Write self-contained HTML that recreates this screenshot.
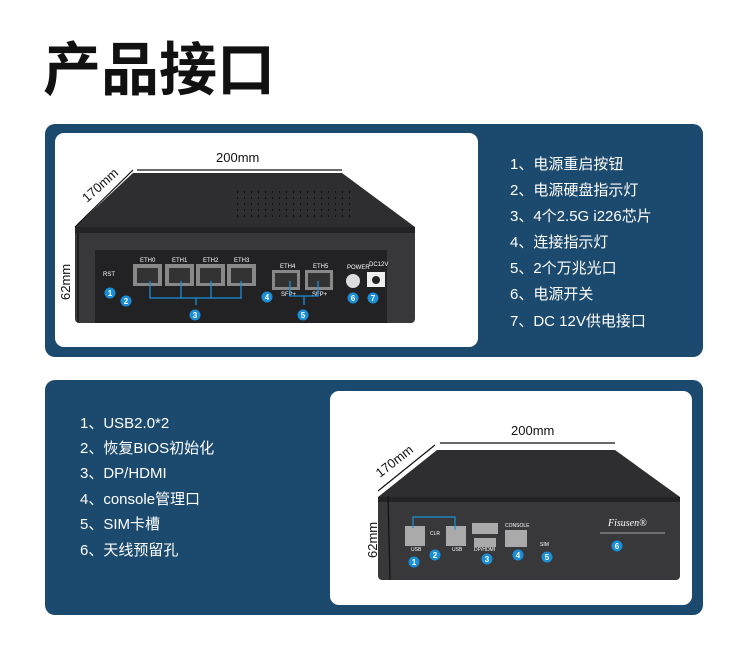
<!DOCTYPE html>
<html><head><meta charset="utf-8"><style>
body{margin:0;background:#fff;}
svg text{font-family:"Liberation Sans","Noto Sans CJK SC",sans-serif;}
</style></head><body>
<svg width="750" height="657" viewBox="0 0 750 657" xmlns="http://www.w3.org/2000/svg">
<text x="43" y="90" font-size="58" font-weight="bold" fill="#111" style="font-family:'Noto Sans CJK SC',sans-serif">产品接口</text>

<rect x="45" y="124" width="658" height="233" rx="10" fill="#1c4a6e"/>
<rect x="55" y="133" width="423" height="214" rx="9" fill="#fff"/>
<g font-size="15" fill="#fff">
<text x="510" y="169">1、电源重启按钮</text>
<text x="510" y="195">2、电源硬盘指示灯</text>
<text x="510" y="221">3、4个2.5G i226芯片</text>
<text x="510" y="247">4、连接指示灯</text>
<text x="510" y="273">5、2个万兆光口</text>
<text x="510" y="299">6、电源开关</text>
<text x="510" y="326">7、DC 12V供电接口</text>
</g>
<!-- device 1 -->
<polygon points="133,173 342,173 415,227 75,227" fill="#2e2e30"/>
<rect x="75" y="227" width="340" height="96" rx="4" fill="#38383a"/>
<rect x="75" y="227" width="340" height="6" fill="#232325"/>
<rect x="95" y="250" width="292" height="73" fill="#222224"/>
<g stroke="#111" stroke-width="2" stroke-dasharray="1 6"><line x1="237" y1="192" x2="355" y2="192"/><line x1="237" y1="198" x2="355" y2="198"/><line x1="237" y1="204" x2="355" y2="204"/><line x1="237" y1="210" x2="355" y2="210"/><line x1="237" y1="216" x2="355" y2="216"/></g>
<g stroke="#111" fill="none" stroke-width="1.2">
<line x1="137" y1="170" x2="342" y2="170"/><line x1="75" y1="227" x2="133" y2="170"/><line x1="78" y1="233" x2="78" y2="322"/></g>
<text x="216" y="162" font-size="13" fill="#111">200mm</text>
<text x="0" y="0" font-size="13" fill="#111" transform="translate(87,203) rotate(-42)">170mm</text>
<text x="0" y="0" font-size="13" fill="#111" transform="translate(70,300) rotate(-90)">62mm</text>
<g fill="#888"><rect x="133" y="264" width="29" height="22"/><rect x="165" y="264" width="29" height="22"/><rect x="196" y="264" width="29" height="22"/><rect x="227" y="264" width="29" height="22"/><rect x="272" y="270" width="28" height="20"/><rect x="305" y="270" width="28" height="20"/></g>
<g fill="#333"><rect x="137" y="268" width="21" height="15"/><rect x="169" y="268" width="21" height="15"/><rect x="200" y="268" width="21" height="15"/><rect x="231" y="268" width="21" height="15"/><rect x="275" y="273" width="22" height="14"/><rect x="308" y="273" width="22" height="14"/></g>
<g font-size="6" fill="#fff"><text x="140" y="262">ETH0</text><text x="172" y="262">ETH1</text><text x="203" y="262">ETH2</text><text x="234" y="262">ETH3</text><text x="280" y="268">ETH4</text><text x="313" y="268">ETH5</text><text x="103" y="276">RST</text><text x="281" y="296">SFP+</text><text x="312" y="296">SFP+</text><text x="347" y="269">POWER</text><text x="369" y="266">DC12V</text></g>
<circle cx="353" cy="281" r="7" fill="#ddd"/><rect x="367" y="272" width="18" height="15" fill="#eee"/><circle cx="376" cy="280" r="4" fill="#222"/>
<g fill="none" stroke="#1a90d8" stroke-width="1.3"><path d="M150,281V298H241V281M181,281V298M211,281V298M196,298V305M290,281V296H318V281M304,296V305"/></g>
<g fill="#1a8ed6"><circle cx="110" cy="293" r="5.5"/><circle cx="126" cy="301" r="5.5"/><circle cx="195" cy="315" r="5.5"/><circle cx="267" cy="297" r="5.5"/><circle cx="303" cy="315" r="5.5"/><circle cx="353" cy="298" r="5.5"/><circle cx="373" cy="298" r="5.5"/></g>
<g font-size="8" font-weight="bold" fill="#fff" text-anchor="middle"><text x="110" y="296">1</text><text x="126" y="304">2</text><text x="195" y="318">3</text><text x="267" y="300">4</text><text x="303" y="318">5</text><text x="353" y="301">6</text><text x="373" y="301">7</text></g>

<rect x="45" y="380" width="658" height="235" rx="10" fill="#1c4a6e"/>
<rect x="330" y="391" width="362" height="214" rx="9" fill="#fff"/>
<g font-size="15" fill="#fff">
<text x="80" y="428">1、USB2.0*2</text>
<text x="80" y="453">2、恢复BIOS初始化</text>
<text x="80" y="478">3、DP/HDMI</text>
<text x="80" y="504">4、console管理口</text>
<text x="80" y="529">5、SIM卡槽</text>
<text x="80" y="555">6、天线预留孔</text>
</g>
<!-- device 2 -->
<polygon points="437,450 615,450 680,497 378,497" fill="#2e2e30"/>
<rect x="378" y="497" width="302" height="83" rx="4" fill="#38383a"/>
<rect x="378" y="497" width="302" height="5" fill="#232325"/>
<g stroke="#111" fill="none" stroke-width="1.2"><line x1="440" y1="443" x2="615" y2="443"/><line x1="378" y1="491" x2="435" y2="445"/><line x1="388" y1="496" x2="390" y2="580"/></g>
<text x="511" y="435" font-size="13" fill="#111">200mm</text>
<text x="0" y="0" font-size="13" fill="#111" transform="translate(380,478) rotate(-38)">170mm</text>
<text x="0" y="0" font-size="13" fill="#111" transform="translate(377,558) rotate(-90)">62mm</text>
<g fill="#aaa"><rect x="405" y="526" width="20" height="20"/><rect x="446" y="526" width="20" height="20"/><rect x="472" y="523" width="26" height="11"/><rect x="474" y="538" width="22" height="9"/><rect x="505" y="530" width="22" height="17"/></g>
<g font-size="5" fill="#fff"><text x="411" y="551">USB</text><text x="452" y="551">USB</text><text x="474" y="551">DP/HDMI</text><text x="505" y="527">CONSOLE</text><text x="540" y="546">SIM</text><text x="430" y="535">CLR</text></g>
<text x="608" y="526" font-size="10" font-style="italic" fill="#fff" style="font-family:'Liberation Serif',serif">Fisusen®</text>
<line x1="600" y1="533" x2="665" y2="533" stroke="#ccc" stroke-width="0.8"/>
<path d="M413,528V517H455V530" stroke="#1a90d8" fill="none" stroke-width="1.2"/>
<g fill="#1a8ed6"><circle cx="414" cy="562" r="5.5"/><circle cx="435" cy="555" r="5.5"/><circle cx="487" cy="559" r="5.5"/><circle cx="518" cy="555" r="5.5"/><circle cx="547" cy="557" r="5.5"/><circle cx="617" cy="546" r="5.5"/></g>
<g font-size="8" font-weight="bold" fill="#fff" text-anchor="middle"><text x="414" y="565">1</text><text x="435" y="558">2</text><text x="487" y="562">3</text><text x="518" y="558">4</text><text x="547" y="560">5</text><text x="617" y="549">6</text></g>
</svg>
</body></html>
